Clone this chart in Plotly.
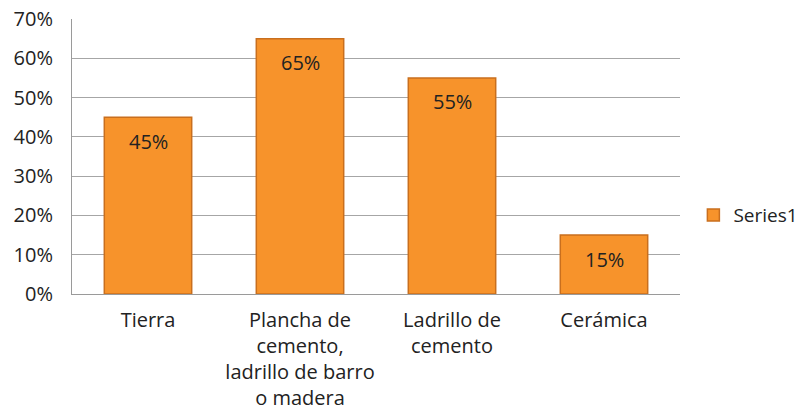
import plotly.graph_objects as go

categories = ["Tierra", "Plancha de<br>cemento,<br>ladrillo de barro<br>o madera", "Ladrillo de<br>cemento", "Cerámica"]
values = [0.45, 0.65, 0.55, 0.15]
labels = ["45%", "65%", "55%", "15%"]
tick_vals = [0, 0.1, 0.2, 0.3, 0.4, 0.5, 0.6, 0.7]
tick_text = ["0%", "10%", "20%", "30%", "40%", "50%", "60%", "70%"]

FONT = "Open Sans, Liberation Sans, sans-serif"

fig = go.Figure()
fig.add_trace(
    go.Bar(
        x=categories,
        y=values,
        name="Series1",
        marker=dict(color="#F7932B", line=dict(color="#C96F1E", width=1.5)),
        width=0.575,
        showlegend=True,
    )
)

# value labels sitting a little below each bar top
for cat, val, lab in zip(categories, values, labels):
    fig.add_annotation(
        x=cat,
        y=val,
        text=lab,
        showarrow=False,
        yanchor="middle",
        yshift=-24,
        font=dict(size=20, color="#222222", family=FONT),
    )

fig.update_xaxes(
    showgrid=False,
    showline=True,
    linecolor="#9a9a9a",
    linewidth=1,
    tickfont=dict(size=20, color="#222222", family=FONT),
    ticks="",
    ticklabelstandoff=8,
    automargin=False,
)
fig.update_yaxes(
    range=[0, 0.7],
    tickvals=tick_vals,
    ticktext=tick_text,
    showgrid=True,
    gridcolor="#a6a6a6",
    gridwidth=1,
    showline=True,
    linecolor="#9a9a9a",
    zeroline=False,
    ticks="",
    ticklabelstandoff=14,
    tickfont=dict(size=20, color="#222222", family=FONT),
    automargin=False,
)

fig.update_layout(
    width=801,
    height=417,
    plot_bgcolor="white",
    paper_bgcolor="white",
    margin=dict(l=72, r=121, t=19, b=123, autoexpand=False),
    font=dict(family=FONT),
    legend=dict(
        x=1.022,
        y=0.287,
        xanchor="left",
        yanchor="middle",
        font=dict(size=19, color="#222222", family=FONT),
        itemwidth=30,
    ),
)

# drop the page's default body margin so the figure sits at the window's corner
fig.write_html(
    "out.html",
    config={"displayModeBar": False},
    post_script="document.body.style.margin='0';document.body.style.overflow='hidden';",
)
